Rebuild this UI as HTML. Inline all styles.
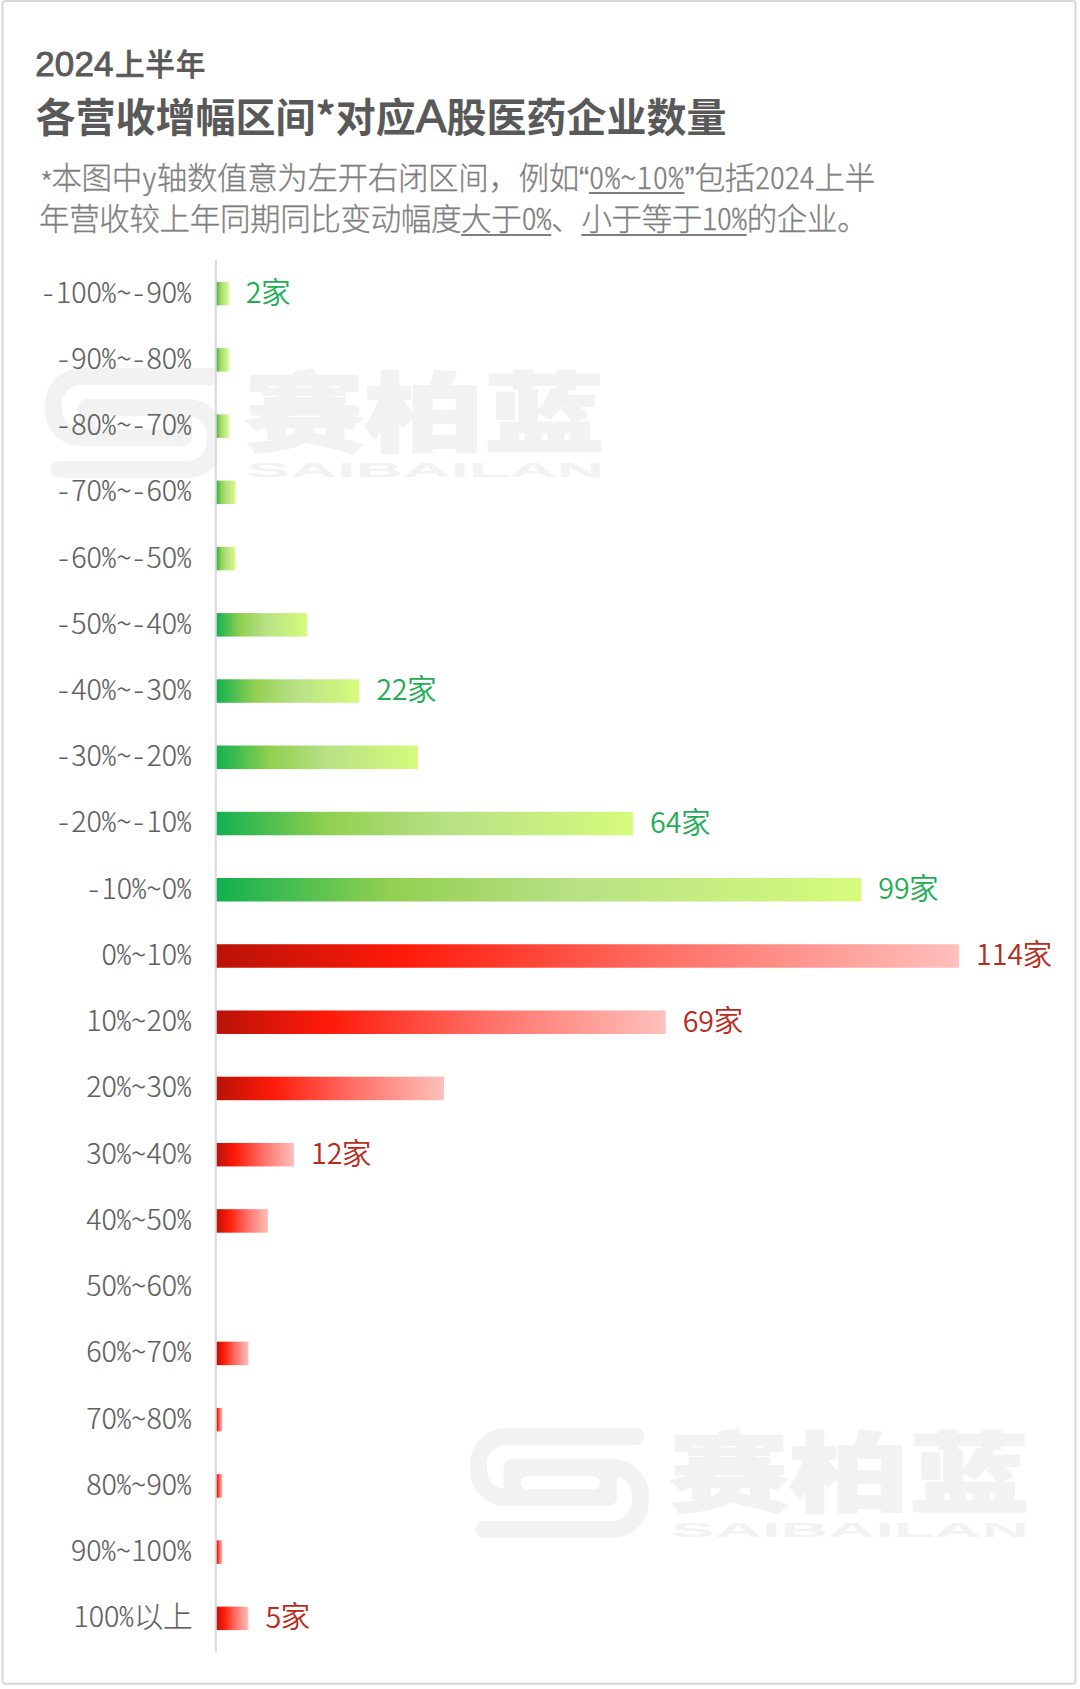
<!DOCTYPE html>
<html lang="zh-CN"><head><meta charset="utf-8"><title>2024上半年各营收增幅区间对应A股医药企业数量</title>
<style>
html,body{margin:0;padding:0;background:#fff;}
body{width:1080px;height:1689px;position:relative;overflow:hidden;font-family:"Liberation Sans","Noto Sans CJK SC",sans-serif;}
i{font-style:normal;}
#t1{position:absolute;left:36px;top:38.7px;font-size:30px;line-height:48px;font-weight:500;color:#595959;white-space:nowrap;font-family:"Noto Sans CJK SC","Liberation Sans",sans-serif;letter-spacing:0.4px;-webkit-text-stroke:0.7px #595959;}
#t1 b{font-family:"Liberation Sans",sans-serif;font-weight:400;font-size:34.9px;-webkit-text-stroke:0.9px #595959;letter-spacing:0.2px;margin-left:-0.8px;margin-right:1.6px;}
#t1 span{position:relative;top:-0.9px;font-size:29.3px;letter-spacing:1.1px;}
#t2{position:absolute;left:35.5px;top:86.5px;font-size:40px;line-height:56px;font-weight:700;color:#595959;white-space:nowrap;font-family:"Noto Sans CJK SC","Liberation Sans",sans-serif;}
#t2 b{font-family:"Liberation Sans",sans-serif;font-weight:400;font-size:46px;-webkit-text-stroke:1.2px #595959;}
.sub{position:absolute;left:39px;font-size:30.5px;line-height:40px;letter-spacing:-0.35px;font-weight:300;-webkit-text-stroke:0.3px #7f7f7f;font-feature-settings:"hwid";color:#7f7f7f;white-space:nowrap;font-family:"Noto Sans CJK SC","Liberation Sans",sans-serif;}
.sub u{text-decoration:underline;text-decoration-thickness:2.2px;text-underline-offset:3.3px;text-decoration-skip-ink:none;}
.sub u.w{letter-spacing:0.65px;}
.l2 u{text-underline-offset:4.1px;}
.st{margin-right:-2.5px;position:relative;top:5.5px;}
.q{font-family:"Liberation Sans",sans-serif;letter-spacing:0;}
.c{font-feature-settings:normal;}
.yl{position:absolute;right:888px;width:300px;text-align:right;font-size:28.7px;line-height:40px;height:40px;letter-spacing:0.5px;font-weight:300;color:#606060;-webkit-text-stroke:0.15px #606060;white-space:nowrap;font-family:"Noto Sans CJK SC","Liberation Sans",sans-serif;}
.vl{position:absolute;font-size:28.7px;line-height:40px;height:40px;letter-spacing:0.5px;font-weight:350;white-space:nowrap;font-family:"Noto Sans CJK SC","Liberation Sans",sans-serif;}
.d{letter-spacing:-0.1px;}
.k{font-size:29.7px;position:relative;top:-0.4px;letter-spacing:-0.6px;margin-left:-0.5px;}
.h{font-feature-settings:"hwid";letter-spacing:0.6px;}
.vg{color:#1fae55;}
.vr{color:#b92b1d;}
svg{position:absolute;left:0;top:0;}
</style></head><body>
<svg width="1080" height="1689" viewBox="0 0 1080 1689">
<g fill="none" stroke="#f2f2f2" stroke-width="17" stroke-linecap="round" stroke-linejoin="round">
<path d="M636,1436.5 H506 A27.5,27.5 0 0 0 478.5,1464 V1470 A27.5,27.5 0 0 0 506,1497.5 H608.5 V1467.5 H512 V1493"/>
<path d="M604,1467.5 H612 A28.5,28.5 0 0 1 640.5,1496 V1501 A28.5,28.5 0 0 1 612,1529.5 H484"/>
<rect x="519" y="1475" width="83" height="15" fill="#f2f2f2" stroke="none"/>
<rect x="520.5" y="1476" width="79.5" height="13.2" rx="6.6" ry="6.6" fill="#ffffff" stroke="none"/>
<text x="0" y="0" transform="translate(669,1505.2) scale(1.385,1)" font-family="'Noto Sans CJK SC',sans-serif" font-weight="900" font-size="86.7" fill="#f2f2f2" stroke="#f2f2f2" stroke-width="2">赛柏蓝</text>
<text x="671" y="1537" font-family="'Liberation Sans',sans-serif" font-weight="700" font-size="21" fill="#f2f2f2" stroke="none" textLength="358" lengthAdjust="spacingAndGlyphs">SAIBAILAN</text>
</g>
<g fill="none" stroke="#f2f2f2" stroke-width="17" stroke-linecap="round" stroke-linejoin="round" transform="translate(-425,-1060)">
<path d="M636,1436.5 H506 A27.5,27.5 0 0 0 478.5,1464 V1470 A27.5,27.5 0 0 0 506,1497.5 H608.5 V1467.5 H512 V1493"/>
<path d="M604,1467.5 H612 A28.5,28.5 0 0 1 640.5,1496 V1501 A28.5,28.5 0 0 1 612,1529.5 H484"/>
<rect x="519" y="1475" width="83" height="15" fill="#f2f2f2" stroke="none"/>
<rect x="520.5" y="1476" width="79.5" height="13.2" rx="6.6" ry="6.6" fill="#ffffff" stroke="none"/>
<text x="0" y="0" transform="translate(669,1505.2) scale(1.385,1)" font-family="'Noto Sans CJK SC',sans-serif" font-weight="900" font-size="86.7" fill="#f2f2f2" stroke="#f2f2f2" stroke-width="2">赛柏蓝</text>
<text x="671" y="1537" font-family="'Liberation Sans',sans-serif" font-weight="700" font-size="21" fill="#f2f2f2" stroke="none" textLength="358" lengthAdjust="spacingAndGlyphs">SAIBAILAN</text>
</g>
<rect x="216.8" y="362" width="14" height="122" fill="#ffffff"/>
<rect x="2.5" y="1" width="1073" height="1682.7" rx="3" ry="3" fill="none" stroke="#d8d8d8" stroke-width="2"/>
</svg>
<div id="t1"><b>2024</b><span>上半年</span></div>
<div id="t2">各营收增幅区间*对应<b>A</b>股医药企业数量</div>
<div class="sub" style="top:156.1px"><i class="st">*</i>本图中y轴数值意为左开右闭区间<i class="c">，</i>例如<i class="q">“</i><u class="w">0%~10%</u><i class="q">”</i>包括2024上半</div>
<div class="sub l2" style="top:197.1px">年营收较上年同期同比变动幅度<u>大于0%</u>、<u>小于等于10%</u>的企业。</div>
<div class="yl" style="top:270.5px"><i class="h">-</i><i class="d">100</i><i class="h">%~-</i><i class="d">90</i><i class="h">%</i></div>
<div class="vl vg" style="top:271.0px;left:245.8px"><i class="d">2</i><i class="k">家</i></div>
<div class="yl" style="top:336.8px"><i class="h">-</i><i class="d">90</i><i class="h">%~-</i><i class="d">80</i><i class="h">%</i></div>
<div class="yl" style="top:403.0px"><i class="h">-</i><i class="d">80</i><i class="h">%~-</i><i class="d">70</i><i class="h">%</i></div>
<div class="yl" style="top:469.2px"><i class="h">-</i><i class="d">70</i><i class="h">%~-</i><i class="d">60</i><i class="h">%</i></div>
<div class="yl" style="top:535.5px"><i class="h">-</i><i class="d">60</i><i class="h">%~-</i><i class="d">50</i><i class="h">%</i></div>
<div class="yl" style="top:601.7px"><i class="h">-</i><i class="d">50</i><i class="h">%~-</i><i class="d">40</i><i class="h">%</i></div>
<div class="yl" style="top:667.9px"><i class="h">-</i><i class="d">40</i><i class="h">%~-</i><i class="d">30</i><i class="h">%</i></div>
<div class="vl vg" style="top:668.4px;left:376.2px"><i class="d">22</i><i class="k">家</i></div>
<div class="yl" style="top:734.2px"><i class="h">-</i><i class="d">30</i><i class="h">%~-</i><i class="d">20</i><i class="h">%</i></div>
<div class="yl" style="top:800.4px"><i class="h">-</i><i class="d">20</i><i class="h">%~-</i><i class="d">10</i><i class="h">%</i></div>
<div class="vl vg" style="top:800.9px;left:650.1px"><i class="d">64</i><i class="k">家</i></div>
<div class="yl" style="top:866.7px"><i class="h">-</i><i class="d">10</i><i class="h">%~</i><i class="d">0</i><i class="h">%</i></div>
<div class="vl vg" style="top:867.2px;left:878.3px"><i class="d">99</i><i class="k">家</i></div>
<div class="yl" style="top:932.9px"><i class="d">0</i><i class="h">%~</i><i class="d">10</i><i class="h">%</i></div>
<div class="vl vr" style="top:933.4px;left:976.1px"><i class="d">114</i><i class="k">家</i></div>
<div class="yl" style="top:999.1px"><i class="d">10</i><i class="h">%~</i><i class="d">20</i><i class="h">%</i></div>
<div class="vl vr" style="top:999.6px;left:682.7px"><i class="d">69</i><i class="k">家</i></div>
<div class="yl" style="top:1065.4px"><i class="d">20</i><i class="h">%~</i><i class="d">30</i><i class="h">%</i></div>
<div class="yl" style="top:1131.6px"><i class="d">30</i><i class="h">%~</i><i class="d">40</i><i class="h">%</i></div>
<div class="vl vr" style="top:1132.1px;left:311.0px"><i class="d">12</i><i class="k">家</i></div>
<div class="yl" style="top:1197.8px"><i class="d">40</i><i class="h">%~</i><i class="d">50</i><i class="h">%</i></div>
<div class="yl" style="top:1264.1px"><i class="d">50</i><i class="h">%~</i><i class="d">60</i><i class="h">%</i></div>
<div class="yl" style="top:1330.3px"><i class="d">60</i><i class="h">%~</i><i class="d">70</i><i class="h">%</i></div>
<div class="yl" style="top:1396.5px"><i class="d">70</i><i class="h">%~</i><i class="d">80</i><i class="h">%</i></div>
<div class="yl" style="top:1462.8px"><i class="d">80</i><i class="h">%~</i><i class="d">90</i><i class="h">%</i></div>
<div class="yl" style="top:1529.0px"><i class="d">90</i><i class="h">%~</i><i class="d">100</i><i class="h">%</i></div>
<div class="yl" style="top:1595.2px"><i class="d">100</i><i class="h">%</i><i class="k">以上</i></div>
<div class="vl vr" style="top:1595.8px;left:265.4px"><i class="d">5</i><i class="k">家</i></div>
<svg width="1080" height="1689" viewBox="0 0 1080 1689"><defs><linearGradient id="g" x1="0" y1="0" x2="1" y2="0"><stop offset="0" stop-color="#10b050"/><stop offset="0.27" stop-color="#92d050"/><stop offset="0.55" stop-color="#b7e185"/><stop offset="1" stop-color="#d6fb7c"/></linearGradient><linearGradient id="r" x1="0" y1="0" x2="1" y2="0"><stop offset="0" stop-color="#b81208"/><stop offset="0.25" stop-color="#ff1a08"/><stop offset="0.6" stop-color="#ff6f66"/><stop offset="1" stop-color="#ffc0bc"/></linearGradient></defs><rect x="215.80" y="281.88" width="13.04" height="23.50" fill="url(#g)"/><rect x="215.80" y="348.12" width="13.04" height="23.50" fill="url(#g)"/><rect x="215.80" y="414.35" width="13.04" height="23.50" fill="url(#g)"/><rect x="215.80" y="480.59" width="19.56" height="23.50" fill="url(#g)"/><rect x="215.80" y="546.82" width="19.56" height="23.50" fill="url(#g)"/><rect x="215.80" y="613.06" width="91.28" height="23.50" fill="url(#g)"/><rect x="215.80" y="679.30" width="143.44" height="23.50" fill="url(#g)"/><rect x="215.80" y="745.53" width="202.12" height="23.50" fill="url(#g)"/><rect x="215.80" y="811.77" width="417.28" height="23.50" fill="url(#g)"/><rect x="215.80" y="878.00" width="645.48" height="23.50" fill="url(#g)"/><rect x="215.80" y="944.24" width="743.28" height="23.50" fill="url(#r)"/><rect x="215.80" y="1010.48" width="449.88" height="23.50" fill="url(#r)"/><rect x="215.80" y="1076.71" width="228.20" height="23.50" fill="url(#r)"/><rect x="215.80" y="1142.95" width="78.24" height="23.50" fill="url(#r)"/><rect x="215.80" y="1209.18" width="52.16" height="23.50" fill="url(#r)"/><rect x="215.80" y="1341.66" width="32.60" height="23.50" fill="url(#r)"/><rect x="215.80" y="1407.89" width="6.52" height="23.50" fill="url(#r)"/><rect x="215.80" y="1474.13" width="6.52" height="23.50" fill="url(#r)"/><rect x="215.80" y="1540.36" width="6.52" height="23.50" fill="url(#r)"/><rect x="215.80" y="1606.60" width="32.60" height="23.50" fill="url(#r)"/><rect x="214.8" y="260" width="2" height="1391.8" fill="#d8d8d8"/></svg>
</body></html>
